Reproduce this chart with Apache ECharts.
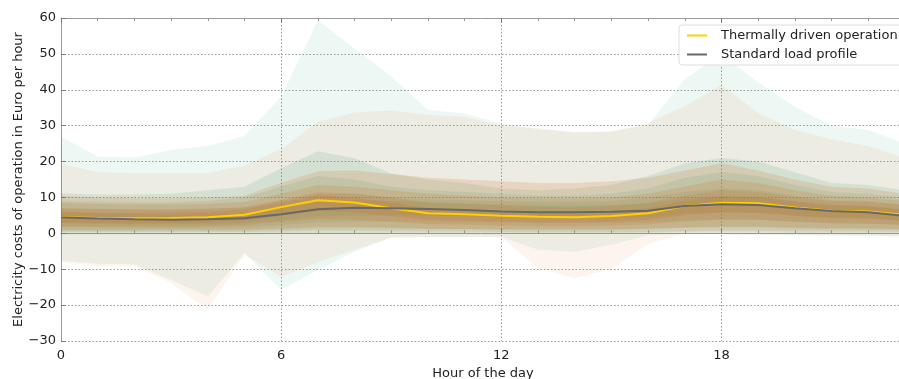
<!DOCTYPE html>
<html>
<head>
<meta charset="utf-8">
<script src="https://cdn.jsdelivr.net/npm/echarts@6/dist/echarts.min.js"></script>
<style>
  html, body { margin: 0; padding: 0; background: #fff; }
  #chart { width: 899px; height: 379px; }
</style>
</head>
<body>
<div id="chart"></div>
<script>
// Hours of the day
const hours = [0,1,2,3,4,5,6,7,8,9,10,11,12,13,14,15,16,17,18,19,20,21,22,23];

// Mean hourly electricity cost (Euro per hour)
const thermalMean  = [4.5,4.3,4.2,4.3,4.5,5.2,7.3,9.2,8.6,7.0,5.6,5.3,4.9,4.6,4.5,4.8,5.6,7.6,8.5,8.4,7.2,6.3,6.1,5.2];
const standardMean = [4.4,4.1,3.9,3.8,3.9,4.2,5.3,6.7,7.1,7.0,6.8,6.5,6.1,5.9,5.9,6.0,6.3,7.6,8.1,7.9,7.0,6.2,5.9,4.9];

// Thermally driven operation: spread bands, outermost first
const thermalMax  = [19.3,17.0,16.8,16.8,16.8,18.8,23.5,31.1,33.7,34.2,33.0,32.5,30.0,29.3,28.3,28.4,30.8,35.5,41.3,33.5,28.8,26.2,24.3,21.0];
const thermalMin  = [-8.0,-9.1,-9.1,-13.9,-21.2,-6.0,-12.1,-8.0,-4.6,-1.2,-1.0,-1.0,-1.1,-9.7,-12.5,-10.0,-3.0,0.0,-0.2,-0.3,-0.4,-0.5,-0.6,-1.0];
const thermalHi90 = [10.5,10.0,9.8,9.8,10.0,10.5,14.0,17.3,17.5,16.5,15.5,15.0,14.5,14.0,14.0,14.5,15.5,17.5,19.5,17.5,15.0,13.0,12.5,11.0];
const thermalLo90 = [0.4,0.4,0.4,0.4,0.4,0.4,0.5,0.7,0.7,0.6,0.5,0.5,0.4,0.3,0.3,0.3,0.4,0.6,0.7,0.7,0.6,0.5,0.5,0.4];
const thermalHi75 = [8.5,8.2,8.0,8.0,8.2,8.7,11.0,13.5,13.0,12.0,11.0,10.5,10.0,9.8,9.7,10.0,11.0,13.0,15.0,14.0,12.0,10.5,10.0,9.0];
const thermalLo75 = [1.0,1.0,1.0,1.0,1.0,1.1,1.4,1.8,1.8,1.6,1.3,1.2,1.1,1.0,1.0,1.1,1.3,1.7,1.9,1.9,1.6,1.4,1.4,1.2];
const thermalHi60 = [7.0,6.8,6.7,6.7,6.9,7.3,9.3,11.5,11.0,10.0,8.5,8.2,7.8,7.4,7.2,7.6,8.5,10.5,12.0,11.5,10.0,9.0,8.7,7.8];
const thermalLo60 = [2.0,1.9,1.9,1.9,2.0,2.3,3.2,4.0,3.8,3.2,2.5,2.4,2.2,2.0,2.0,2.1,2.5,3.3,3.8,3.8,3.2,2.8,2.7,2.3];
const thermalHi50 = [6.0,5.8,5.7,5.8,6.0,6.7,8.6,10.6,10.0,8.6,7.0,6.7,6.3,6.0,5.9,6.2,7.0,9.0,10.2,10.0,8.7,7.7,7.5,6.5];
const thermalLo50 = [3.0,2.9,2.8,2.9,3.0,3.5,4.9,6.2,5.9,4.8,3.8,3.6,3.3,3.1,3.0,3.2,3.8,5.1,5.8,5.8,4.9,4.2,4.1,3.5];

// Standard load profile: spread bands, outermost first
const standardMax  = [26.9,21.4,21.1,23.2,24.3,27.1,38.1,59.4,51.5,43.7,34.4,33.4,30.6,29.0,28.1,28.4,30.2,43.0,50.0,42.0,35.3,30.0,28.8,25.0];
const standardMin  = [-7.6,-8.5,-8.6,-13.0,-17.6,-5.5,-15.7,-10.2,-5.1,-1.1,-1.0,-1.0,-1.0,-4.6,-5.1,-3.2,-0.5,-0.2,-0.3,-0.4,-0.5,-0.6,-0.7,-0.9];
const standardHi90 = [11.2,10.8,10.8,11.0,12.0,13.0,18.1,22.9,20.9,16.7,15.0,14.0,12.5,12.0,12.5,13.5,16.0,19.5,21.0,20.0,17.0,14.0,13.5,12.0];
const standardLo90 = [-0.3,-0.3,-0.3,-0.3,-0.3,-0.3,-0.2,0.0,0.0,0.1,0.1,0.1,0.1,0.1,0.1,0.1,0.1,0.2,0.2,0.2,0.1,0.1,0.0,-0.1];
const standardHi75 = [9.0,8.8,8.6,8.6,9.0,10.0,13.0,16.0,15.0,13.0,12.0,11.5,11.0,10.5,10.5,11.0,12.5,15.5,17.0,16.0,13.5,11.5,11.0,10.0];
const standardLo75 = [0.7,0.7,0.7,0.7,0.7,0.8,1.0,1.3,1.4,1.3,1.2,1.2,1.1,1.1,1.1,1.1,1.2,1.5,1.6,1.6,1.3,1.2,1.1,0.9];
const standardHi60 = [7.0,6.8,6.6,6.6,6.8,7.2,9.0,11.0,11.0,10.0,9.5,9.2,9.0,8.8,8.8,9.0,10.0,11.5,12.5,12.0,10.5,9.3,9.0,8.0];
const standardLo60 = [1.8,1.7,1.6,1.6,1.6,1.7,2.3,3.0,3.3,3.3,3.2,3.1,3.0,2.9,2.9,2.9,3.0,3.6,3.9,3.8,3.3,2.9,2.8,2.3];
const standardHi50 = [5.8,5.5,5.3,5.2,5.3,5.7,7.1,8.8,9.2,9.0,8.7,8.4,8.0,7.8,7.8,7.9,8.3,9.8,10.5,10.2,9.0,8.0,7.7,6.6];
const standardLo50 = [2.9,2.7,2.6,2.5,2.5,2.8,3.6,4.7,5.0,5.0,4.9,4.7,4.4,4.2,4.2,4.3,4.5,5.5,5.9,5.7,5.0,4.4,4.2,3.4];

const TEAL_OUTER = 'rgba(65,165,125,0.095)';
const ORANGE_OUTER = 'rgba(225,105,25,0.075)';
const TEAL = 'rgba(65,165,125,0.15)';
const ORANGE = 'rgba(205,100,25,0.17)';

// A filled band between two hourly arrays, drawn as one polygon in data coordinates
function band(name, lower, upper, color) {
  return {
    type: 'custom',
    name: name,
    silent: true,
    coordinateSystem: 'cartesian2d',
    xAxisIndex: 0, yAxisIndex: 0,
    data: hours.map((h, i) => [h, lower[i], upper[i]]),
    encode: { x: 0, y: [1, 2] },
    renderItem: function (params, api) {
      if (params.dataIndex !== 0) return null;
      const pts = [];
      for (let i = 0; i < hours.length; i++) pts.push(api.coord([hours[i], upper[i]]));
      for (let i = hours.length - 1; i >= 0; i--) pts.push(api.coord([hours[i], lower[i]]));
      return {
        type: 'polygon',
        shape: { points: pts },
        style: { fill: color, stroke: null },
        clipPath: {
          type: 'rect',
          shape: { x: params.coordSys.x, y: params.coordSys.y, width: params.coordSys.width, height: params.coordSys.height }
        }
      };
    },
    z: 2
  };
}

const minus = v => (v < 0 ? '\u2212' + Math.abs(v) : String(v));
const font = 'DejaVu Sans';

const chart = echarts.init(document.getElementById('chart'), null, { renderer: 'canvas' });

const series = [
  band('s-outer', standardMin, standardMax, TEAL_OUTER),
  band('s-90', standardLo90, standardHi90, TEAL),
  band('s-75', standardLo75, standardHi75, TEAL),
  band('s-60', standardLo60, standardHi60, TEAL),
  band('s-50', standardLo50, standardHi50, TEAL),
  band('t-outer', thermalMin, thermalMax, ORANGE_OUTER),
  band('t-90', thermalLo90, thermalHi90, ORANGE),
  band('t-75', thermalLo75, thermalHi75, ORANGE),
  band('t-60', thermalLo60, thermalHi60, ORANGE),
  band('t-50', thermalLo50, thermalHi50, ORANGE),
  {
    type: 'line', name: 'Thermally driven operation',
    data: hours.map((h, i) => [h, thermalMean[i]]),
    symbol: 'none', lineStyle: { color: '#ffd000', width: 2 }, itemStyle: { color: '#ffd000' },
    z: 5, silent: true
  },
  {
    type: 'line', name: 'Standard load profile',
    data: hours.map((h, i) => [h, standardMean[i]]),
    symbol: 'none', lineStyle: { color: '#686868', width: 2 }, itemStyle: { color: '#686868' },
    z: 6, silent: true
  }
];

const xBase = {
  type: 'value', min: 0, max: 23, interval: 6,
  axisLine: { show: true, lineStyle: { color: '#9a9a9a', width: 1 } },
  axisTick: { show: true, inside: true, length: 5, lineStyle: { color: '#777' } },
  minorTick: { show: true, splitNumber: 6, length: 3, lineStyle: { color: '#999' } }
};

chart.setOption({
  animation: false,
  backgroundColor: '#ffffff',
  grid: { left: 61, top: 18, width: 844, bottom: 38, containLabel: false, outerBoundsMode: 'none' },
  legend: {
    data: ['Thermally driven operation', 'Standard load profile'],
    orient: 'vertical',
    left: 679, top: 25,
    padding: [4, 10, 4, 8],
    itemGap: 6,
    itemWidth: 20, itemHeight: 2, icon: 'rect',
    backgroundColor: '#ffffff',
    borderColor: '#dddddd', borderWidth: 1, borderRadius: 3,
    textStyle: { fontFamily: font, fontSize: 13, color: '#222', padding: [0, 0, 0, 9] }
  },
  xAxis: [
    Object.assign({}, xBase, {
      position: 'bottom',
      name: 'Hour of the day', nameLocation: 'middle', nameGap: 25,
      nameTextStyle: { fontFamily: font, fontSize: 13, color: '#222' },
      axisLabel: { fontFamily: font, fontSize: 13, color: '#222', margin: 8, showMaxLabel: false },
      splitLine: { show: true, lineStyle: { type: [1.5, 2], color: '#999', width: 1 } }
    }),
    Object.assign({}, xBase, {
      position: 'top',
      axisLabel: { show: false },
      splitLine: { show: false }
    })
  ],
  yAxis: {
    type: 'value', min: -30, max: 60, interval: 10,
    name: 'Electricity costs of operation in Euro per hour',
    nameLocation: 'middle', nameGap: 36, nameMoveOverlap: false,
    nameTextStyle: { fontFamily: font, fontSize: 13, color: '#222' },
    axisLine: { show: true, lineStyle: { color: '#9a9a9a', width: 1 } },
    axisTick: { show: true, inside: true, length: 5, lineStyle: { color: '#777' } },
    axisLabel: { fontFamily: font, fontSize: 13, color: '#222', margin: 5, formatter: minus },
    splitLine: { show: true, lineStyle: { type: [1.5, 2], color: '#999', width: 1 } }
  },
  series: series
});
</script>
</body>
</html>
